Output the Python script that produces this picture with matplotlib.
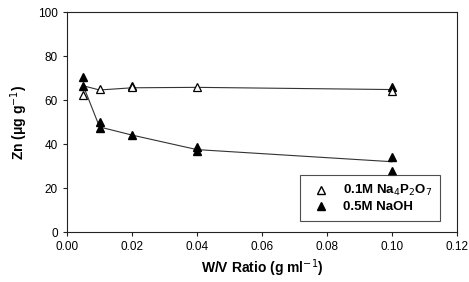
import matplotlib
matplotlib.use("Agg")
import matplotlib.pyplot as plt
from matplotlib.lines import Line2D

plt.rcParams['font.family'] = ['Liberation Sans', 'DejaVu Sans']

# W/V ratios (g/ml)
ratios = [0.005, 0.01, 0.02, 0.04, 0.1]

# Mean lines for each extractant
na4p2o7_mean = [66.5, 64.6, 65.6, 65.8, 64.8]
naoh_mean = [66.5, 47.8, 44.1, 37.5, 32.0]

# Replicate points, open triangles (0.1M Na4P2O7)
na4p2o7_x = [0.005, 0.01, 0.02, 0.04, 0.1]
na4p2o7_y = [62.5, 64.9, 65.8, 65.8, 64.2]

# Replicate points, filled triangles (0.5M NaOH)
naoh_x = [0.005, 0.005, 0.01, 0.01, 0.02, 0.02, 0.04, 0.04, 0.1, 0.1, 0.1]
naoh_y = [70.7, 66.5, 50.1, 47.1, 44.1, 66.2, 38.5, 36.8, 65.8, 34.0, 27.9]

fig = plt.figure(figsize=(4.69, 2.82), dpi=100)
ax = fig.add_axes([0.143, 0.177, 0.831, 0.78])

ax.plot(ratios, na4p2o7_mean, color='#333333', lw=0.8, zorder=2)
ax.plot(ratios, naoh_mean, color='#333333', lw=0.8, zorder=2)
ax.plot(naoh_x, naoh_y, linestyle='none', marker='^', ms=6,
        mfc='black', mec='black', zorder=3)
ax.plot(na4p2o7_x, na4p2o7_y, linestyle='none', marker='^', ms=6,
        mfc='white', mec='black', mew=0.9, zorder=4)

ax.set_xlim(0, 0.12)
ax.set_ylim(0, 100)
ax.set_xticks([0, 0.02, 0.04, 0.06, 0.08, 0.10, 0.12])
ax.set_xticklabels(['%.2f' % v for v in ax.get_xticks()])
ax.set_yticks(range(0, 101, 20))
ax.tick_params(direction='out', length=3, width=0.8, labelsize=8.5, color='#222222')

for s in ax.spines.values():
    s.set_linewidth(0.8)
    s.set_color('#222222')

ax.set_xlabel('W/V Ratio (g ml$^{-1}$)', fontsize=10, fontweight='bold', labelpad=3)
ax.set_ylabel('Zn (μg g$^{-1}$)', fontsize=10, fontweight='bold', labelpad=6)

handles = [
    Line2D([], [], linestyle='none', marker='^', ms=6, mfc='white', mec='black'),
    Line2D([], [], linestyle='none', marker='^', ms=6, mfc='black', mec='black'),
]
leg = ax.legend(handles, ['0.1M Na$_4$P$_2$O$_7$', '0.5M NaOH'],
                loc='lower right', bbox_to_anchor=(0.956, 0.05), borderaxespad=0,
                prop={'weight': 'bold', 'size': 9.5}, frameon=True,
                fancybox=False, edgecolor='#222222', borderpad=0.6,
                handlelength=2.0, handletextpad=0.6, labelspacing=0.2)
leg.get_frame().set_linewidth(0.8)

fig.savefig('out.png', dpi=100)
